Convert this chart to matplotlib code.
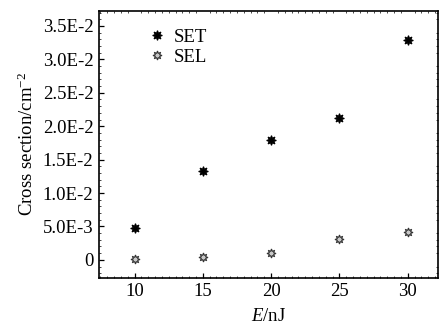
import matplotlib
matplotlib.use("Agg")
import matplotlib.pyplot as plt
from matplotlib.ticker import MultipleLocator

plt.rcParams['font.family'] = ['Liberation Serif', 'DejaVu Serif']
plt.rcParams['mathtext.fontset'] = 'custom'
plt.rcParams['mathtext.rm'] = 'Liberation Serif'
plt.rcParams['mathtext.it'] = 'Liberation Serif:italic'

# Laser pulse energy (nJ)
energy = [10, 15, 20, 25, 30]
# Cross sections (cm^-2)
set_cs = [0.0047, 0.0133, 0.0179, 0.0212, 0.0329]
sel_cs = [0.0002, 0.0004, 0.0010, 0.0031, 0.0042]

y_ticks = [0, 0.005, 0.010, 0.015, 0.020, 0.025, 0.030, 0.035]
y_tick_labels = ['0', '5.0E-3', '1.0E-2', '1.5E-2', '2.0E-2', '2.5E-2', '3.0E-2', '3.5E-2']
x_ticks = [10, 15, 20, 25, 30]

fig = plt.figure(figsize=(4.4, 3.32), dpi=100)
ax = fig.add_axes([0.225, 0.164, 0.770, 0.803])

ax.plot(energy, set_cs, linestyle='none', marker=(8, 1, 0), markersize=7,
        markerfacecolor='black', markeredgecolor='black', markeredgewidth=0.8,
        label='SET')
ax.plot(energy, sel_cs, linestyle='none', marker=(8, 1, 0), markersize=6.5,
        markerfacecolor='#c8c8c8', markeredgecolor='#333333', markeredgewidth=0.8,
        label='SEL')

ax.set_xlim(7.4, 32.2)
ax.set_ylim(-0.00265, 0.03725)
ax.set_xticks(x_ticks)
ax.set_xticklabels([str(v) for v in x_ticks])
ax.set_yticks(y_ticks)
ax.set_yticklabels(y_tick_labels)
ax.xaxis.set_minor_locator(MultipleLocator(0.5))
ax.yaxis.set_minor_locator(MultipleLocator(0.001))

ax.tick_params(which='major', direction='in', length=3.5, width=0.9,
               labelsize=13.5, pad=4, top=False, right=False)
ax.tick_params(which='minor', direction='in', length=1.3, width=0.5,
               top=True, right=True)
for s in ax.spines.values():
    s.set_linewidth(1.2)

ax.set_xlabel(r'$\mathit{E}$/nJ', fontsize=13.5, labelpad=6)
ax.set_ylabel(r'Cross section/cm$^{-2}$', fontsize=13.5, labelpad=4)

ax.legend(loc='upper left', bbox_to_anchor=(0.11, 0.975), frameon=False,
          fontsize=13.5, handletextpad=0.4, labelspacing=0.15,
          handlelength=1.0, borderaxespad=0.2)

fig.savefig('out.png', dpi=100)
